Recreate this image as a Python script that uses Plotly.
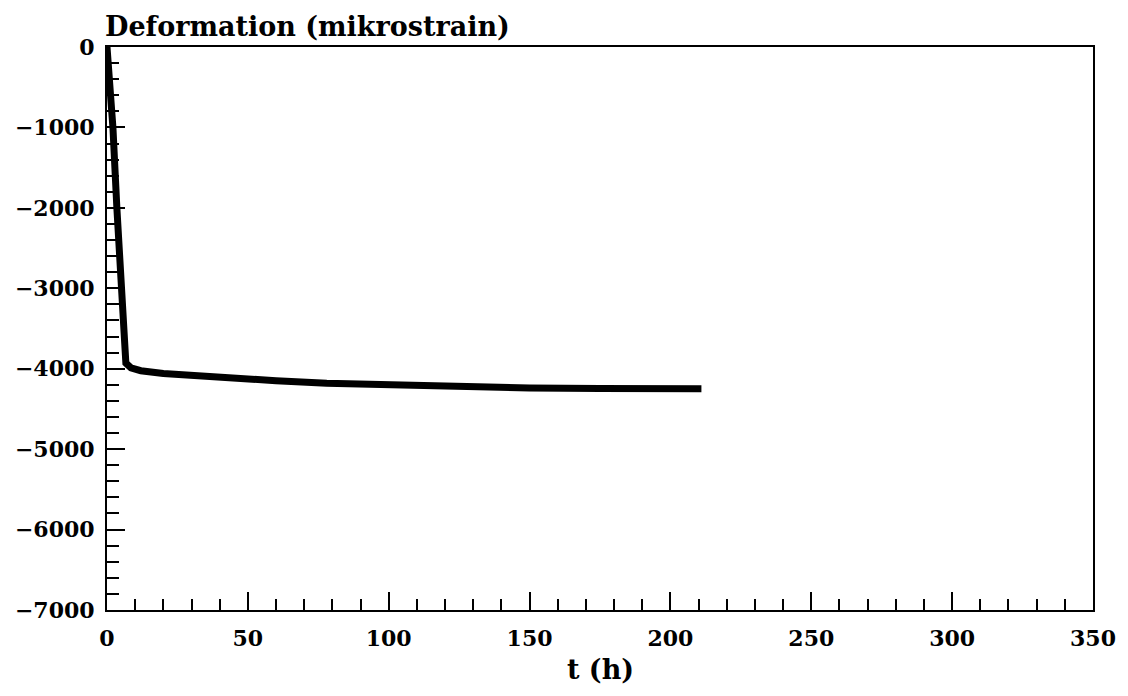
import plotly.graph_objects as go

t_hours = [0, 2.1, 3.5, 5.2, 6.7, 8.5, 12, 20, 30, 43, 60, 78, 100, 125, 150, 175, 211]
deformation = [0, -1000, -2000, -3000, -3930, -3990, -4025, -4060, -4085, -4110,
               -4150, -4180, -4205, -4225, -4240, -4245, -4248]

x_ticks = [0, 50, 100, 150, 200, 250, 300, 350]
y_ticks = [0, -1000, -2000, -3000, -4000, -5000, -6000, -7000]

FONT = "DejaVu Serif"

fig = go.Figure()
fig.add_trace(go.Scatter(x=t_hours, y=deformation, mode="lines",
                         line=dict(color="black", width=7), showlegend=False,
                         hoverinfo="skip"))

axis_common = dict(ticks="inside", ticklen=18, tickwidth=2, tickcolor="black",
                   showline=True, linecolor="black", linewidth=2, mirror=True,
                   showgrid=False, zeroline=False,
                   tickfont=dict(family=FONT, size=22, weight="bold"))

fig.update_layout(
    width=1128, height=696,
    margin=dict(l=107, r=31, t=47, b=86),
    paper_bgcolor="white", plot_bgcolor="white",
    font=dict(family=FONT, size=22, color="black"),
    xaxis=dict(range=[0, 350], tickvals=x_ticks, ticklabelstandoff=8,
               minor=dict(dtick=10, tick0=0, ticks="inside", ticklen=11,
                          tickwidth=2, tickcolor="black", showgrid=False),
               **axis_common),
    yaxis=dict(range=[-7000, 0], tickvals=y_ticks, ticklabelstandoff=6,
               minor=dict(dtick=200, tick0=0, ticks="inside", ticklen=12,
                          tickwidth=2, tickcolor="black", showgrid=False),
               **axis_common),
    annotations=[
        dict(text="Deformation (mikrostrain)", xref="paper", yref="paper",
             x=0, y=1, xanchor="left", yanchor="bottom", showarrow=False,
             font=dict(family=FONT, size=27, weight="bold"), xshift=-4, yshift=3),
        dict(text="t (h)", xref="paper", yref="paper", x=0.5, y=0,
             xanchor="center", yanchor="top", showarrow=False,
             font=dict(family=FONT, size=27, weight="bold"), yshift=-42),
    ],
)

fig.write_html("out.html", config={"displayModeBar": False},
               post_script="document.body.style.margin='0px';")
